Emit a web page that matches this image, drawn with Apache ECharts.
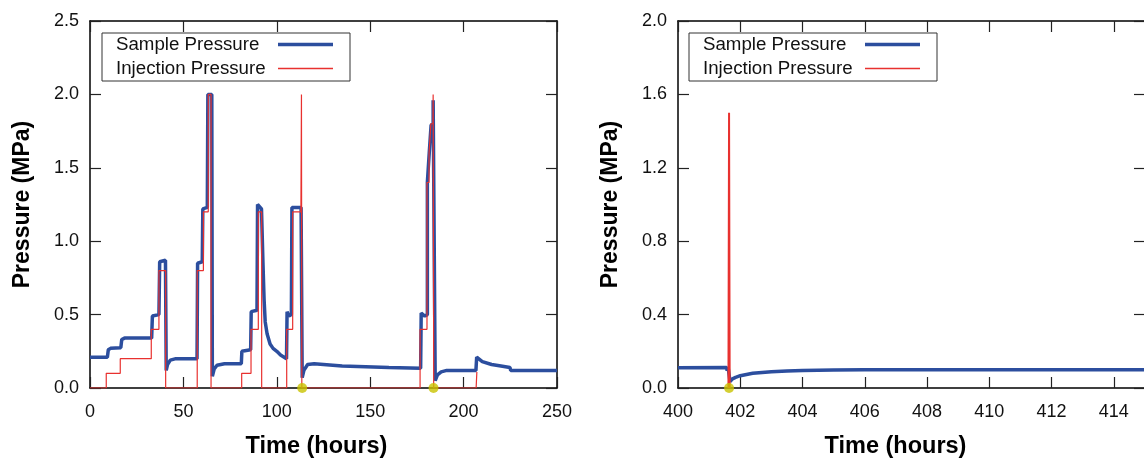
<!DOCTYPE html>
<html>
<head>
<meta charset="utf-8">
<script src="https://cdn.jsdelivr.net/npm/echarts@6/dist/echarts.min.js"></script>
<style>html,body{margin:0;padding:0;background:#fff;}#chart{width:1144px;height:460px;}</style>
</head>
<body>
<div id="chart"></div>
<script>
// ---- data (time in hours, pressure in MPa) ----
const legendNames = ['Sample Pressure', 'Injection Pressure'];
const leftXTicks = {min: 0, max: 250, interval: 50};
const leftYTicks = {min: 0, max: 2.5, interval: 0.5};
const rightXTicks = {min: 400, max: 415, interval: 2};
const rightYTicks = {min: 0, max: 2.0, interval: 0.4};

const sampleLeft = [
  [0,0.21],[9.3,0.21],[9.8,0.26],[11,0.27],[16.5,0.275],[17,0.33],[18.5,0.34],[33,0.34],
  [33.4,0.49],[36.9,0.5],[37.3,0.86],[40.4,0.87],[40.8,0.12],[41.5,0.16],[43,0.19],[46,0.2],
  [57.3,0.2],[57.6,0.85],[60.1,0.86],[60.4,1.22],[62.8,1.23],[63.1,2.0],[65.2,2.0],[65.5,0.08],
  [66.5,0.13],[68,0.155],[72,0.165],[81,0.165],[81.3,0.25],[86,0.26],[86.3,0.52],[89.4,0.53],
  [89.7,1.25],[91.8,1.22],[92.6,0.85],[93.2,0.6],[93.8,0.45],[94.8,0.37],[96.4,0.3],[98,0.27],
  [100,0.25],[102,0.225],[105.2,0.2],[105.5,0.52],[106.5,0.49],[107.8,0.5],[108.1,1.23],
  [113.0,1.23],[113.6,0.07],[114.5,0.12],[116.5,0.16],[120,0.165],[135,0.15],[160,0.14],
  [177,0.135],[177.3,0.51],[179.2,0.49],[180.6,0.5],[180.6,1.4],[181.6,1.41],[181.6,1.6],
  [182.6,1.6],[182.6,1.79],[183.7,1.8],[183.7,1.96],[184.4,1.96],[184.8,0.05],[186,0.09],
  [188,0.11],[191,0.12],[206.6,0.12],[207,0.21],[210,0.18],[215,0.16],[220,0.15],[224.8,0.14],
  [225.2,0.12],[250,0.12]
];
const injectionLeft = [
  [0,0],[8.7,0],[8.7,0.1],[16.2,0.1],[16.2,0.2],[32.8,0.2],[32.8,0.4],[36.9,0.4],[36.9,0.8],
  [40.5,0.8],[40.5,0],[57.4,0],[57.4,0.8],[60.7,0.8],[60.7,1.2],[63.3,1.2],[63.3,2.0],[64.8,2.0],
  [64.8,0],[81.2,0],[81.2,0.1],[86.2,0.1],[86.2,0.4],[90.1,0.4],[90.1,1.2],[91.9,1.2],[91.9,0],
  [105.3,0],[105.3,0.4],[108.5,0.4],[108.5,1.2],[112.9,1.2],[113.2,2.0],[113.4,0],[176.7,0],
  [176.7,0.4],[180.4,0.4],[180.4,1.4],[181.5,1.4],[181.5,1.6],[182.5,1.6],[182.5,1.8],
  [183.6,1.8],[183.7,2.0],[183.9,2.0],[184.0,0],[206.7,0],[207.1,0.11]
];
const markersLeft = [[113.6,0],[183.9,0]];

const sampleRight = [
  [400,0.111],[401.56,0.112],[401.58,0.095],[401.61,0.113],[401.67,0.035],[401.75,0.05],
  [401.85,0.058],[402,0.067],[402.2,0.074],[402.4,0.08],[402.7,0.085],[403,0.089],
  [403.5,0.093],[404,0.096],[405,0.098],[406,0.099],[415,0.099]
];
const injectionRight = [[401.62,0],[401.64,1.5],[401.66,0]];
const markersRight = [[401.64,0]];

// ---- styles ----
const FONT = 'Liberation Sans, Arial, Helvetica, sans-serif';
const BLUE = '#2c4e9e';
const RED = '#e8312f';
const YELLOW = '#c9c300';

function xAxisDef(grid, ticks, pos, showLabels, hideMax, titleShift) {
  return {
    type: 'value', gridIndex: grid, position: pos,
    min: ticks.min, max: ticks.max, interval: ticks.interval,
    axisLine: {show: true, onZero: false, lineStyle: {color: '#000', width: 1.5}},
    axisTick: {show: true, inside: true, length: 11, lineStyle: {color: '#222', width: 1.2}},
    splitLine: {show: false},
    axisLabel: {show: showLabels, margin: 15, fontSize: 18, fontFamily: FONT, color: '#111',
      showMaxLabel: hideMax ? false : null},
    name: showLabels ? 'Time (hours)' : '',
    nameLocation: 'middle', nameGap: 47,
    nameTextStyle: {fontSize: 23.5, fontWeight: 'bold', fontFamily: FONT, color: '#000',
      padding: [0, titleShift || 0, 0, 0]}
  };
}
function yAxisDef(grid, ticks, pos, showLabels) {
  return {
    type: 'value', gridIndex: grid, position: pos,
    min: ticks.min, max: ticks.max, interval: ticks.interval,
    axisLine: {show: true, onZero: false, lineStyle: {color: '#000', width: 1.5}},
    axisTick: {show: true, inside: true, length: 11, lineStyle: {color: '#222', width: 1.2}},
    splitLine: {show: false},
    axisLabel: {show: showLabels, margin: 11, fontSize: 18, fontFamily: FONT, color: '#111',
      formatter: v => v.toFixed(1)},
    name: showLabels ? 'Pressure (MPa)' : '',
    nameLocation: 'middle', nameGap: 56,
    nameTextStyle: {fontSize: 23, fontWeight: 'bold', fontFamily: FONT, color: '#000'}
  };
}
function legendDef(left) {
  return {
    left: left, top: 33, orient: 'vertical', align: 'right',
    itemWidth: 55, itemHeight: 16, itemGap: 5,
    padding: [2, 17, 3, 14],
    borderColor: '#333', borderWidth: 1, borderRadius: 0,
    selectedMode: false,
    itemStyle: {borderWidth: 0},
    data: [
      {name: legendNames[0], icon: 'path://M0,0h55v3.5h-55z', itemStyle: {color: BLUE}},
      {name: legendNames[1], icon: 'path://M0,0h55v1.4h-55z', itemStyle: {color: RED}}
    ],
    formatter: '{a|{name}}',
    textStyle: {rich: {a: {width: 157, align: 'left', fontSize: 18.7, fontFamily: FONT, color: '#111'}}}
  };
}

const option = {
  animation: false,
  backgroundColor: '#fff',
  grid: [
    {left: 90, top: 21, width: 467, height: 367, outerBoundsMode: 'none', containLabel: false},
    {left: 678, top: 21, width: 467, height: 367, outerBoundsMode: 'none', containLabel: false}
  ],
  legend: [legendDef(102), legendDef(689)],
  xAxis: [
    xAxisDef(0, leftXTicks, 'bottom', true, false, 14),
    xAxisDef(0, leftXTicks, 'top', false, false),
    xAxisDef(1, rightXTicks, 'bottom', true, true, 32),
    xAxisDef(1, rightXTicks, 'top', false, false)
  ],
  yAxis: [
    yAxisDef(0, leftYTicks, 'left', true),
    yAxisDef(0, leftYTicks, 'right', false),
    yAxisDef(1, rightYTicks, 'left', true),
    yAxisDef(1, rightYTicks, 'right', false)
  ],
  series: [
    {name: legendNames[0], type: 'line', xAxisIndex: 0, yAxisIndex: 0, data: sampleLeft,
      symbol: 'none', color: BLUE, lineStyle: {color: BLUE, width: 3.5}, z: 2},
    {name: legendNames[1], type: 'line', xAxisIndex: 0, yAxisIndex: 0, data: injectionLeft,
      symbol: 'none', color: RED, lineStyle: {color: RED, width: 1.2}, z: 3},
    {name: 'markers', type: 'scatter', xAxisIndex: 0, yAxisIndex: 0, data: markersLeft,
      symbolSize: 10, itemStyle: {color: YELLOW}, z: 5, clip: false},
    {name: legendNames[0], type: 'line', xAxisIndex: 2, yAxisIndex: 2, data: sampleRight,
      symbol: 'none', color: BLUE, lineStyle: {color: BLUE, width: 3.5}, z: 2},
    {name: legendNames[1], type: 'line', xAxisIndex: 2, yAxisIndex: 2, data: injectionRight,
      symbol: 'none', color: RED, lineStyle: {color: RED, width: 2}, z: 3},
    {name: 'markers', type: 'scatter', xAxisIndex: 2, yAxisIndex: 2, data: markersRight,
      symbolSize: 10, itemStyle: {color: YELLOW}, z: 5, clip: false}
  ]
};

const chart = echarts.init(document.getElementById('chart'), null, {renderer: 'canvas'});
chart.setOption(option);
</script>
</body>
</html>
